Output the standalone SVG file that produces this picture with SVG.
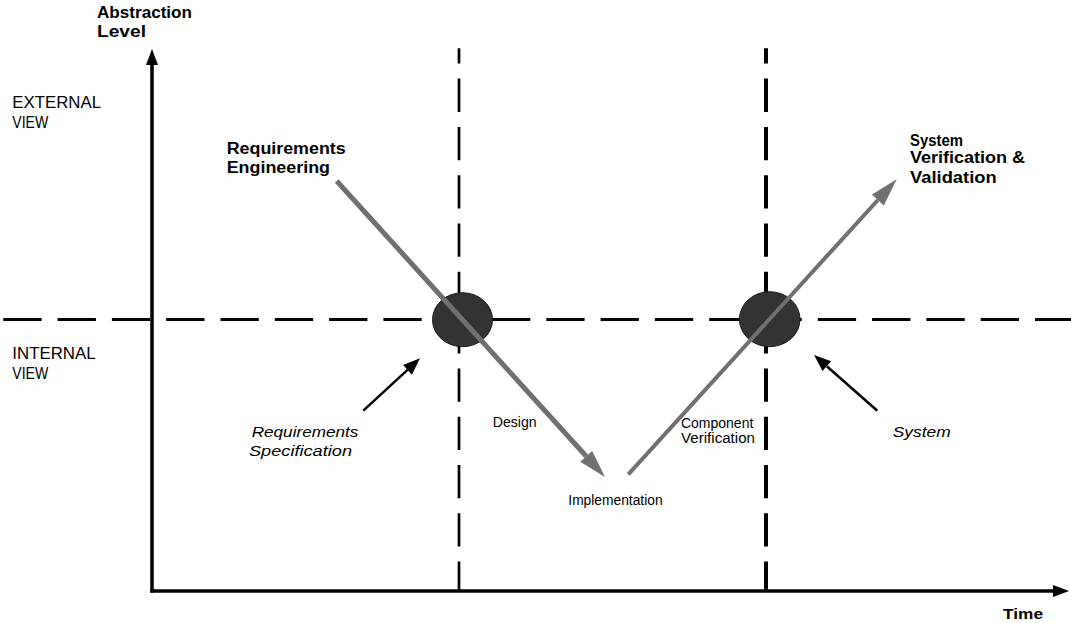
<svg xmlns="http://www.w3.org/2000/svg" width="1071" height="623" viewBox="0 0 1071 623">
  <style>
    .bold { font-family: "Liberation Sans", Arial, sans-serif; font-weight: bold; fill: #000; }
    .plain { font-family: "Liberation Sans", Arial, sans-serif; fill: #000; }
    .ital { font-family: "Liberation Sans", Arial, sans-serif; font-style: italic; fill: #000; }
    .axis { stroke: #000; stroke-width: 3.5; fill: none; }
    .hdash { stroke: #000; stroke-width: 3; stroke-dasharray: 38.3 16; fill: none; }
    .vdash { stroke: #000; stroke-dasharray: 33.3 15; stroke-dashoffset: 18; fill: none; }
    .phase { stroke: #707070; fill: none; }
    .pointer { stroke: #000; stroke-width: 2.5; fill: none; }
    .gate { fill: #333333; stroke: #1a1a1a; stroke-width: 1; }
  </style>
  <defs>
    <marker id="axisHead" markerUnits="userSpaceOnUse" markerWidth="16" markerHeight="12" refX="0" refY="6" orient="auto" overflow="visible">
      <path d="M0,0 L16,6 L0,12 z" fill="#000"/>
    </marker>
    <marker id="phaseHead" markerUnits="userSpaceOnUse" markerWidth="28" markerHeight="16" refX="0" refY="8" orient="auto" overflow="visible">
      <path d="M0,0 L28,8 L0,16 z" fill="#707070"/>
    </marker>
    <marker id="pointerHead" markerUnits="userSpaceOnUse" markerWidth="17" markerHeight="13" refX="0" refY="6.5" orient="auto" overflow="visible">
      <path d="M0,0 L17,6.5 L0,13 z" fill="#000"/>
    </marker>
  </defs>

  <rect x="0" y="0" width="1071" height="623" fill="#ffffff"/>

  <!-- boundaries: external/internal split and phase separators -->
  <g id="boundaries">
    <line class="hdash" x1="3.3" y1="319.5" x2="1071" y2="319.5"/>
    <line class="vdash" x1="459" y1="48.3" x2="459" y2="591" stroke-width="2.7"/>
    <line class="vdash" x1="766" y1="48.3" x2="766" y2="591" stroke-width="4"/>
  </g>

  <!-- axes -->
  <g id="axes">
    <line class="axis" x1="152" y1="592.5" x2="152" y2="65" marker-end="url(#axisHead)"/>
    <line class="axis" x1="150.3" y1="591" x2="1053" y2="591" marker-end="url(#axisHead)"/>
    <text class="bold" x="97" y="18" font-size="16" textLength="95" lengthAdjust="spacingAndGlyphs">Abstraction</text>
    <text class="bold" x="97" y="37.3" font-size="16" textLength="49" lengthAdjust="spacingAndGlyphs">Level</text>
    <text class="bold" x="1003" y="619" font-size="14" textLength="40" lengthAdjust="spacingAndGlyphs">Time</text>
  </g>

  <!-- view labels -->
  <g id="external-view">
    <text class="plain" x="12.3" y="108.3" font-size="16" textLength="88.7" lengthAdjust="spacingAndGlyphs">EXTERNAL</text>
    <text class="plain" x="12.3" y="128.3" font-size="16" textLength="36" lengthAdjust="spacingAndGlyphs">VIEW</text>
  </g>
  <g id="internal-view">
    <text class="plain" x="12.3" y="359.3" font-size="16" textLength="83.3" lengthAdjust="spacingAndGlyphs">INTERNAL</text>
    <text class="plain" x="12.3" y="379" font-size="16" textLength="36" lengthAdjust="spacingAndGlyphs">VIEW</text>
  </g>

  <!-- transition points -->
  <g id="requirements-specification">
    <ellipse class="gate" cx="462.5" cy="319.7" rx="30" ry="27"/>
    <text class="ital" x="251.7" y="436.7" font-size="15" textLength="106.7" lengthAdjust="spacingAndGlyphs">Requirements</text>
    <text class="ital" x="249" y="456.3" font-size="15" textLength="103" lengthAdjust="spacingAndGlyphs">Specification</text>
  </g>
  <g id="system">
    <ellipse class="gate" cx="769.7" cy="319.2" rx="30.3" ry="27.5"/>
    <text class="ital" x="892.7" y="436.7" font-size="15" textLength="58" lengthAdjust="spacingAndGlyphs">System</text>
  </g>

  <!-- phase labels -->
  <g id="requirements-engineering">
    <text class="bold" x="226.7" y="154" font-size="16" textLength="119" lengthAdjust="spacingAndGlyphs">Requirements</text>
    <text class="bold" x="226.7" y="173.3" font-size="16" textLength="103.3" lengthAdjust="spacingAndGlyphs">Engineering</text>
  </g>
  <g id="design">
    <text class="plain" x="492.7" y="426.7" font-size="14" textLength="44" lengthAdjust="spacingAndGlyphs">Design</text>
  </g>
  <g id="implementation">
    <text class="plain" x="568.3" y="505" font-size="14" textLength="94.3" lengthAdjust="spacingAndGlyphs">Implementation</text>
  </g>
  <g id="component-verification">
    <text class="plain" x="681" y="428.3" font-size="14" textLength="72.3" lengthAdjust="spacingAndGlyphs">Component</text>
    <text class="plain" x="681" y="443.3" font-size="14" textLength="74" lengthAdjust="spacingAndGlyphs">Verification</text>
  </g>
  <g id="system-verification-validation">
    <text class="bold" x="910" y="145.7" font-size="16" textLength="53" lengthAdjust="spacingAndGlyphs">System</text>
    <text class="bold" x="910" y="163.3" font-size="16" textLength="115" lengthAdjust="spacingAndGlyphs">Verification &amp;</text>
    <text class="bold" x="910" y="183.3" font-size="16" textLength="86.7" lengthAdjust="spacingAndGlyphs">Validation</text>
  </g>

  <!-- connectors -->
  <g id="connectors">
    <line class="phase" x1="336.7" y1="181" x2="586.2" y2="456.3" stroke-width="5" marker-end="url(#phaseHead)"/>
    <line class="phase" x1="628.3" y1="474.3" x2="877.9" y2="200" stroke-width="4" marker-end="url(#phaseHead)"/>
    <line class="pointer" x1="363.3" y1="410.7" x2="407.5" y2="369.9" marker-end="url(#pointerHead)"/>
    <line class="pointer" x1="877.3" y1="410.7" x2="826.8" y2="366.2" marker-end="url(#pointerHead)"/>
  </g>
</svg>
